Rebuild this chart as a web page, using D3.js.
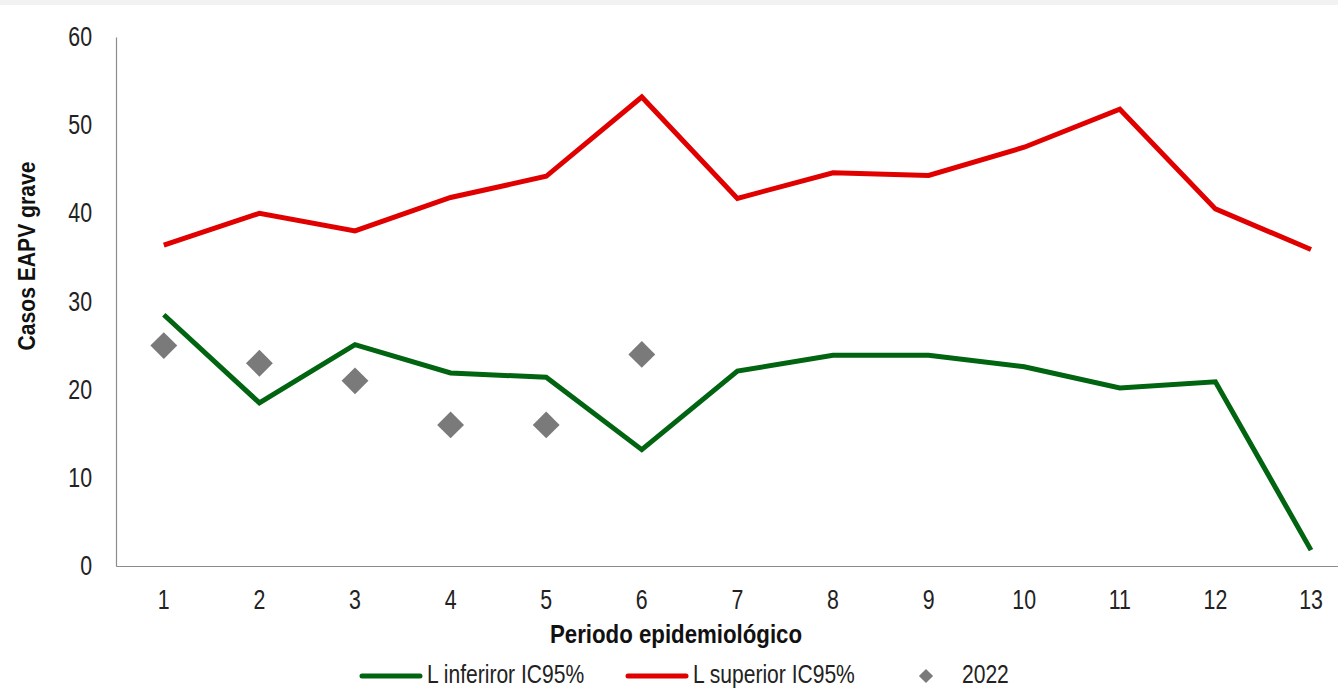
<!DOCTYPE html>
<html>
<head>
<meta charset="utf-8">
<script src="https://cdn.jsdelivr.net/npm/d3@7"></script>
<style>
  body { margin: 0; background: #fff; }
  svg { display: block; font-family: "Liberation Sans", Arial, sans-serif; }
</style>
</head>
<body>
<svg id="chart" width="1338" height="690"></svg>
<script>
// periods on the x axis
const periodos = ["1", "2", "3", "4", "5", "6", "7", "8", "9", "10", "11", "12", "13"];
// lower limit IC95%
const inferior = [28.5, 18.5, 25.1, 21.9, 21.4, 13.2, 22.1, 23.9, 23.9, 22.6, 20.2, 20.9, 1.8];
// upper limit IC95%
const superior = [36.4, 40.0, 38.0, 41.8, 44.2, 53.2, 41.7, 44.6, 44.3, 47.5, 51.8, 40.5, 35.9];
// cases 2022 (only first periods)
const casos2022 = [25, 23, 21, 16, 16, 24];
const yTicks = [0, 10, 20, 30, 40, 50, 60];

const width = 1338, height = 690;
const margin = {top: 37, left: 116, bottom: 124};
const narrow = 0.79; // the original uses a narrow font, squeeze glyphs horizontally

const svg = d3.select("#chart");

// squeeze a text element around its anchor point
function squeeze(sel, s) {
    sel.each(function () {
        const t = d3.select(this);
        const tx = +t.attr("x") || 0, ty = +t.attr("y") || 0;
        t.attr("x", 0).attr("y", 0)
            .attr("transform", `translate(${tx},${ty}) scale(${s},1)`);
    });
}

// light strip at the top of the picture
svg.append("rect").attr("x", 0).attr("y", 0).attr("width", width).attr("height", 5).attr("fill", "#f2f2f2");

const x = d3.scaleBand().domain(periodos).range([margin.left, margin.left + 13 * 95.6]);
const y = d3.scaleLinear().domain([0, 60]).range([height - margin.bottom, margin.top]);
const cx = d => x(d) + x.bandwidth() / 2;

// axes
const yAxis = svg.append("g")
    .attr("transform", `translate(${margin.left},0)`)
    .call(d3.axisLeft(y).tickValues(yTicks).tickSize(0).tickPadding(24));
const xAxis = svg.append("g")
    .attr("transform", `translate(0,${y(0)})`)
    .call(d3.axisBottom(x).tickSize(0).tickPadding(24));

[yAxis, xAxis].forEach(g => {
    g.select(".domain").attr("stroke", "#8c8c8c").attr("stroke-width", 1.2);
    g.selectAll("text").attr("font-size", 27).attr("fill", "#222").attr("font-family", null);
    squeeze(g.selectAll("text"), narrow);
});
xAxis.selectAll("text").attr("dy", "0.71em");

// axis titles
svg.append("text")
    .attr("x", 676).attr("y", 643)
    .attr("text-anchor", "middle")
    .attr("font-size", 25).attr("font-weight", "bold").attr("fill", "#111")
    .text("Periodo epidemiológico")
    .call(squeeze, 0.89);
svg.append("text")
    .attr("transform", `translate(35,256) rotate(-90) scale(0.88,1)`)
    .attr("text-anchor", "middle")
    .attr("font-size", 24).attr("font-weight", "bold").attr("fill", "#111")
    .text("Casos EAPV grave");

// lines
const line = d3.line().x((d, i) => cx(periodos[i])).y(d => y(d));
svg.append("path").datum(superior)
    .attr("fill", "none").attr("stroke", "#e00000").attr("stroke-width", 5)
    .attr("stroke-linejoin", "miter").attr("d", line);
svg.append("path").datum(inferior)
    .attr("fill", "none").attr("stroke", "#006411").attr("stroke-width", 5)
    .attr("stroke-linejoin", "miter").attr("d", line);

// 2022 diamonds
const diamond = d3.symbol().type(d3.symbolSquare).size(19 * 19);
svg.append("g").selectAll("path").data(casos2022).join("path")
    .attr("transform", (d, i) => `translate(${cx(periodos[i])},${y(d)}) rotate(45)`)
    .attr("d", diamond)
    .attr("fill", "#7a7a7a");

// legend
const legend = svg.append("g").attr("font-size", 26).attr("fill", "#222");
const ly = 676;
const items = [
    {label: "L inferiror IC95%", color: "#006411", x0: 362, type: "line"},
    {label: "L superior IC95%", color: "#e00000", x0: 628, type: "line"},
    {label: "2022", color: "#7a7a7a", x0: 926, type: "point"}
];
items.forEach(it => {
    if (it.type === "line") {
        legend.append("line")
            .attr("x1", it.x0).attr("x2", it.x0 + 58).attr("y1", ly).attr("y2", ly)
            .attr("stroke", it.color).attr("stroke-width", 5).attr("stroke-linecap", "round");
        legend.append("text").attr("x", it.x0 + 65).attr("y", 683).text(it.label)
            .call(squeeze, 0.81);
    } else {
        legend.append("path")
            .attr("transform", `translate(${it.x0},${ly}) rotate(45)`)
            .attr("d", d3.symbol().type(d3.symbolSquare).size(10 * 10))
            .attr("fill", it.color);
        legend.append("text").attr("x", it.x0 + 36).attr("y", 683).text(it.label)
            .call(squeeze, 0.81);
    }
});
</script>
</body>
</html>
